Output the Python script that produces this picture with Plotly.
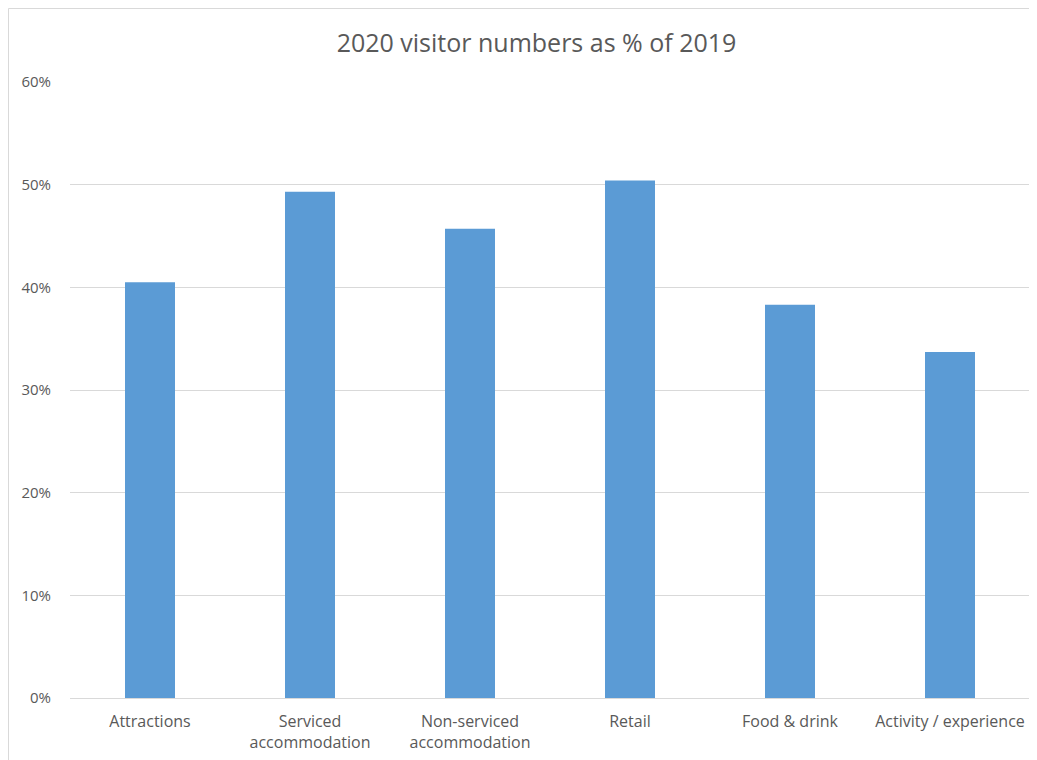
import plotly.graph_objects as go

categories = ["Attractions", "Serviced<br>accommodation", "Non-serviced<br>accommodation",
              "Retail", "Food & drink", "Activity / experience"]
values = [0.405, 0.493, 0.457, 0.504, 0.383, 0.337]
y_ticks = [0, 0.1, 0.2, 0.3, 0.4, 0.5, 0.6]
y_tick_labels = ["0%", "10%", "20%", "30%", "40%", "50%", "60%"]

# the page shows the figure offset by 8px (body margin); positions below are in figure px
fig = go.Figure(go.Bar(x=categories, y=values, marker=dict(color="#5b9bd5", line=dict(width=0)),
                       width=0.3125))

fig.update_layout(
    width=1037, height=760,
    margin=dict(l=62, r=15, t=74, b=70),
    paper_bgcolor="white", plot_bgcolor="white",
    font=dict(family="Open Sans, Liberation Sans, sans-serif", color="#595959", size=15),
    title=dict(text="2020 visitor numbers as % of 2019", x=528.5 / 1037, xref="container",
               xanchor="center", y=1 - 35 / 760, yref="container", yanchor="middle",
               font=dict(size=25, color="#595959")),
    showlegend=False,
)
fig.update_xaxes(showgrid=False, showline=True, linecolor="#d9d9d9", linewidth=1,
                 ticks="", tickfont=dict(size=16, color="#595959"), ticklabelstandoff=9)
fig.update_yaxes(range=[0, 0.6], tickvals=y_ticks, ticktext=y_tick_labels,
                 showgrid=True, gridcolor="#d9d9d9", gridwidth=1, zeroline=False,
                 showline=False, ticks="", tickfont=dict(size=15, color="#595959"),
                 ticklabelstandoff=18)
fig.add_shape(type="rect", xref="paper", yref="paper",
              x0=(0.5 - 62) / 960, x1=(1050 - 62) / 960,
              y0=(690 - 780) / 616, y1=(690 - 0.5) / 616,
              line=dict(color="#d9d9d9", width=1), fillcolor="rgba(0,0,0,0)", layer="below")

fig.write_html("out.html")
